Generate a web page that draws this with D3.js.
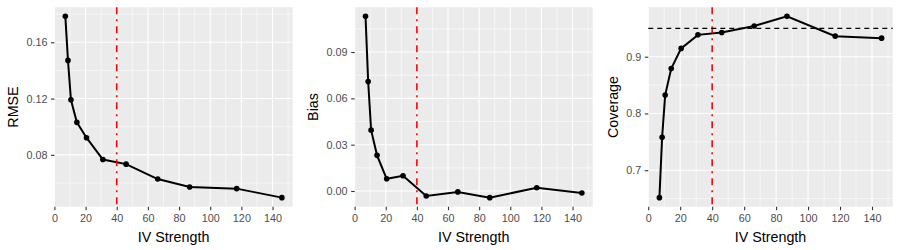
<!DOCTYPE html>
<html>
<head>
<meta charset="utf-8">
<script src="https://cdn.jsdelivr.net/npm/d3@7"></script>
<style>
  html, body { margin: 0; padding: 0; background: #fff; }
  svg { display: block; font-family: "Liberation Sans", Arial, Helvetica, sans-serif; }
</style>
</head>
<body>
<svg id="chart" width="900" height="250"></svg>
<script>
// ---- data ----
const ivStrength = [7.0, 8.7, 10.6, 14.4, 20.6, 31.1, 46.0, 66.3, 86.8, 117.0, 146.0];
const rmse = [0.1784, 0.1471, 0.1191, 0.1031, 0.0922, 0.0767, 0.0734, 0.0628, 0.0572, 0.0560, 0.0496];
const bias = [0.1131, 0.0709, 0.0394, 0.0231, 0.0079, 0.0099, -0.0032, -0.0006, -0.0043, 0.0021, -0.0013];
const coverage = [0.6516, 0.7580, 0.8324, 0.8790, 0.9146, 0.9385, 0.9426, 0.9542, 0.9711, 0.9362, 0.9327];

const xTicks = [0, 20, 40, 60, 80, 100, 120, 140];
const xMinor = [10, 30, 50, 70, 90, 110, 130, 150];
const rmseTicks = [0.08, 0.12, 0.16];
const rmseMinor = [0.06, 0.10, 0.14, 0.18];
const biasTicks = [0.00, 0.03, 0.06, 0.09];
const biasMinor = [0.015, 0.045, 0.075, 0.105];
const coverageTicks = [0.7, 0.8, 0.9];
const coverageMinor = [0.65, 0.75, 0.85, 0.95];

const thresholdX = 40;
const nominalCoverage = 0.95;

(function () {
const panels = [
  { label: "RMSE", values: rmse, ticks: rmseTicks, minor: rmseMinor, fmt: d3.format(".2f"), left: 54.5, hline: null },
  { label: "Bias", values: bias, ticks: biasTicks, minor: biasMinor, fmt: d3.format(".2f"), left: 54.7, hline: null },
  { label: "Coverage", values: coverage, ticks: coverageTicks, minor: coverageMinor, fmt: d3.format(".1f"), left: 48.3, hline: nominalCoverage }
];

const svg = d3.select("#chart");
const pTop = 7.3, pBottom = 206.7, rightInner = 292.7;
const tickFont = 10.8, titleFont = 14.3;

function expand(ext) {
  const r = ext[1] - ext[0];
  return [ext[0] - 0.05 * r, ext[1] + 0.05 * r];
}

panels.forEach((p, i) => {
  const ox = i * 300;
  const g = svg.append("g").attr("transform", `translate(${ox},0)`);
  const x = d3.scaleLinear().domain(expand(d3.extent(ivStrength))).range([p.left, rightInner]);
  const y = d3.scaleLinear().domain(expand(d3.extent(p.values))).range([pBottom, pTop]);

  g.append("rect").attr("x", p.left).attr("y", pTop)
    .attr("width", rightInner - p.left).attr("height", pBottom - pTop)
    .attr("fill", "#EBEBEB");

  const [xd0, xd1] = x.domain();
  const [yd0, yd1] = y.domain();
  g.selectAll(".xminor").data(xMinor.filter(v => v >= xd0 && v <= xd1)).enter().append("line")
    .attr("x1", d => x(d)).attr("x2", d => x(d)).attr("y1", pTop).attr("y2", pBottom)
    .attr("stroke", "#fff").attr("stroke-width", 0.55);
  g.selectAll(".yminor").data(p.minor.filter(v => v >= yd0 && v <= yd1)).enter().append("line")
    .attr("y1", d => y(d)).attr("y2", d => y(d)).attr("x1", p.left).attr("x2", rightInner)
    .attr("stroke", "#fff").attr("stroke-width", 0.55);
  g.selectAll(".xmajor").data(xTicks).enter().append("line")
    .attr("x1", d => x(d)).attr("x2", d => x(d)).attr("y1", pTop).attr("y2", pBottom)
    .attr("stroke", "#fff").attr("stroke-width", 1.1);
  g.selectAll(".ymajor").data(p.ticks).enter().append("line")
    .attr("y1", d => y(d)).attr("y2", d => y(d)).attr("x1", p.left).attr("x2", rightInner)
    .attr("stroke", "#fff").attr("stroke-width", 1.1);

  const xAxis = d3.axisBottom(x).tickValues(xTicks).tickSize(3.5).tickPadding(4.6).tickFormat(d3.format("d"));
  const xg = g.append("g").attr("transform", `translate(0,${pBottom})`).call(xAxis);
  xg.select(".domain").remove();
  xg.selectAll(".tick line").attr("stroke", "#333333").attr("stroke-width", 1.1);
  xg.selectAll(".tick text").attr("fill", "#4D4D4D").attr("font-size", tickFont).attr("font-family", null);

  const yAxis = d3.axisLeft(y).tickValues(p.ticks).tickSize(3.5).tickPadding(3.6).tickFormat(p.fmt);
  const yg = g.append("g").attr("transform", `translate(${p.left},0)`).call(yAxis);
  yg.select(".domain").remove();
  yg.selectAll(".tick line").attr("stroke", "#333333").attr("stroke-width", 1.1);
  yg.selectAll(".tick text").attr("fill", "#4D4D4D").attr("font-size", tickFont).attr("font-family", null);

  g.append("text").attr("x", (p.left + rightInner) / 2).attr("y", 241.5)
    .attr("text-anchor", "middle").attr("font-size", titleFont).attr("fill", "#000")
    .text("IV Strength");
  g.append("text").attr("transform", `translate(17.6,${(pTop + pBottom) / 2}) rotate(-90)`)
    .attr("text-anchor", "middle").attr("font-size", titleFont).attr("fill", "#000")
    .text(p.label);

  const pts = ivStrength.map((v, k) => [v, p.values[k]]);
  g.append("path").datum(pts)
    .attr("d", d3.line().x(d => x(d[0])).y(d => y(d[1])))
    .attr("fill", "none").attr("stroke", "#000").attr("stroke-width", 2);
  g.selectAll(".pt").data(pts).enter().append("circle")
    .attr("cx", d => x(d[0])).attr("cy", d => y(d[1])).attr("r", 2.8).attr("fill", "#000");

  g.append("line").attr("x1", x(thresholdX)).attr("x2", x(thresholdX)).attr("y1", pTop).attr("y2", pBottom)
    .attr("stroke", "#FF0000").attr("stroke-width", 1.6).attr("stroke-dasharray", "7,5,2,5");
  if (p.hline !== null) {
    g.append("line").attr("x1", p.left).attr("x2", rightInner).attr("y1", y(p.hline)).attr("y2", y(p.hline))
      .attr("stroke", "#000").attr("stroke-width", 1.2).attr("stroke-dasharray", "5,4");
  }
});
})();
</script>
</body>
</html>
